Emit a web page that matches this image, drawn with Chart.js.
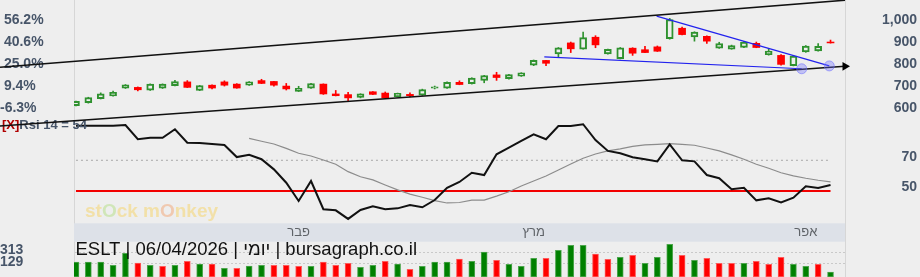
<!DOCTYPE html>
<html>
<head>
<meta charset="utf-8">
<title>ESLT</title>
<script src="https://cdn.jsdelivr.net/npm/chart.js@4.4.1/dist/chart.umd.min.js"></script>
<style>
  html, body { margin: 0; padding: 0; background: #eeeeee; }
  #wrap { position: relative; width: 920px; height: 277px; overflow: hidden; }
  #wrap canvas { position: absolute; left: 0; top: 0; }
</style>
</head>
<body>
<div id="wrap">
  <canvas id="volumeChart" width="917" height="277"></canvas>
  <canvas id="rsiChart" width="917" height="277"></canvas>
  <canvas id="priceChart" width="917" height="277"></canvas>
</div>
<script>
// ---- values (one entry per trading day) ----
var opens  = [611, 624, 642, 655, 690, 694, 681, 690, 702, 719, 680, 704, 719, 709, 704, 725, 721, 700, 676, 690,
              709, 664, 661, 648, 674, 668, 652, 662, 658, 690, 690, 717, 711, 726, 751, 734, 745, 795, 817, 847,
              897, 869, 923, 847, 825, 873, 866, 879, 916, 964, 924, 927, 873, 869, 876, 895, 843, 840, 793, 856,
              860, 901];
var highs  = [632, 649, 669, 677, 707, 696, 710, 710, 726, 725, 703, 706, 724, 711, 721, 731, 722, 712, 699, 712,
              710, 680, 671, 665, 675, 673, 668, 669, 686, 700, 719, 724, 738, 749, 763, 754, 761, 819, 818, 876,
              901, 946, 930, 869, 876, 875, 881, 883, 1009, 969, 948, 929, 900, 887, 903, 901, 872, 844, 839, 885,
              894, 910];
var lows   = [609, 622, 641, 654, 689, 678, 680, 689, 701, 693, 679, 687, 700, 690, 703, 711, 700, 682, 675, 689,
              662, 655, 633, 646, 661, 645, 650, 651, 657, 687, 689, 706, 709, 715, 726, 732, 744, 793, 793, 830,
              853, 868, 875, 846, 824, 840, 852, 858, 914, 933, 905, 895, 872, 868, 875, 875, 841, 795, 792, 854,
              859, 896];
var closes = [630, 648, 664, 671, 706, 683, 709, 709, 721, 694, 702, 691, 704, 691, 719, 712, 704, 687, 690, 711,
              664, 656, 646, 664, 662, 646, 667, 656, 684, 697, 717, 707, 737, 748, 739, 752, 760, 818, 804, 875,
              870, 921, 888, 868, 875, 850, 853, 859, 1003, 935, 946, 905, 894, 885, 901, 876, 860, 799, 837, 883,
              881, 897];

var volumes = [160, 160, 160, 108, 297, 145, 108, 93, 108, 171, 129, 129, 61, 61, 97, 108, 108, 108, 93, 93,
               160, 108, 140, 77, 108, 171, 129, 46, 93, 160, 160, 208, 171, 318, 187, 124, 93, 219, 219, 344,
               423, 423, 286, 203, 234, 266, 140, 234, 439, 266, 187, 219, 140, 140, 140, 171, 124, 234, 124, 93,
               124, 1];
// 1 = green volume bar, 0 = red volume bar
var volumeUp = [1, 1, 1, 1, 1, 0, 1, 0, 1, 0, 1, 0, 1, 0, 1, 1, 0, 0, 0, 1,
                0, 0, 0, 1, 1, 0, 1, 0, 1, 1, 1, 0, 1, 1, 0, 1, 1, 1, 0, 1,
                1, 1, 0, 0, 1, 0, 1, 1, 1, 0, 1, 0, 0, 0, 1, 0, 0, 0, 1, 1,
                0, 1];

var rsiValues = [92.5, 92.5, 92.5, 92.5, 93.0, 83.7, 84.7, 84.7, 90.2, 81.5, 81.3, 80.6, 80.0, 72.1, 73.6, 70.7,
                 64.1, 55.4, 43.5, 56.5, 38.1, 37.4, 31.8, 37.6, 40.0, 38.1, 38.7, 40.9, 39.4, 44.1, 52.1, 55.9,
                 61.9, 60.4, 73.9, 78.2, 82.6, 86.9, 83.7, 92.3, 92.3, 93.5, 83.2, 76.1, 74.6, 72.0, 70.7, 69.3,
                 80.4, 70.0, 69.3, 60.4, 58.3, 51.1, 52.1, 43.9, 45.2, 42.6, 45.6, 53.1, 52.0, 53.9];
var rsiSignal = [null, null, null, null, null, null, null, null, null, null, null, null, null, null,
                 84.3, 82.4, 80.6, 77.8, 74.6, 72.8, 70.2, 67.4, 62.6, 59.3, 57.2, 53.9, 50.7, 48.0, 45.9, 43.7,
                 42.2, 42.5, 44.1, 44.1, 46.7, 49.5, 53.3, 56.5, 59.8, 63.7, 67.6, 71.3, 74.1, 76.1, 77.4, 79.1,
                 80.0, 80.4, 80.8, 80.4, 79.8, 78.0, 76.1, 73.5, 70.7, 67.4, 64.8, 61.9, 59.8, 58.3, 57.0, 55.9];
var rsiLevels = [70, 50];

var monthLabels = ['פבר', 'מרץ', 'אפר'];
var monthStarts = [18, 37, 59];

var priceTicks = [600, 700, 800, 900, 1000];
var rsiTicks = [50, 70];
var volumeTicks = [129, 313];
var pctBase = 640.1; // price the left percent axis is measured from

// drawn trend lines, as [day index, price]
var upperChannel = [[-6.14, 786], [62.17, 1092]];
var lowerChannel = [[-6.14, 518], [62.17, 790]];
var wedgeLower = [[37.86, 833], [58.67, 779]];
var wedgeUpper = [[46.94, 1019], [60.9, 792]];

var chartTitle = 'ESLT | 06/04/2026 | יומי | bursagraph.co.il';
var rsiPeriod = 14;

// ---- layout / style ----
var LEFT_W = 74, RIGHT_W = 72;
var X_MIN = -0.16, X_MAX = 62.17;
var PRICE_MIN = -144.2, PRICE_MAX = 1065.5;
var RSI_MIN = -6.03, RSI_MAX = 174.43;
var VOL_MIN = -75.5, VOL_MAX = 4281.7;
var BAND_TOP = 223.3, BAND_H = 18.4;

var UP_COLOR = '#2f922f';
var DOWN_COLOR = '#ff0000';
var BG = '#eeeeee';
var LABEL_COLOR = '#475569';
var FONT = 'Arial, "Liberation Sans", sans-serif';

function pts(pairs) {
    return pairs.map(function (p) { return { x: p[0], y: p[1] }; });
}

function series(values) {
    var out = [];
    values.forEach(function (v, i) { if (v !== null) out.push({ x: i, y: v }); });
    return out;
}

function xAxis() {
    return { type: 'linear', min: X_MIN, max: X_MAX, offset: false, display: false };
}

// y axis with a fixed width and only the given tick values
function sideAxis(position, width, min, max, tickValues, opts) {
    opts = opts || {};
    return {
        type: 'linear',
        position: position,
        min: min,
        max: max,
        bounds: 'data',
        afterBuildTicks: function (scale) {
            scale.ticks = tickValues.map(function (v) { return { value: v }; });
        },
        afterFit: function (scale) {
            scale.width = width;
            scale.paddingTop = 0;
            scale.paddingBottom = 0;
        },
        grid: opts.grid || { display: false, drawTicks: false },
        border: opts.border || { display: false },
        ticks: {
            display: tickValues.length > 0,
            autoSkip: false,
            crossAlign: 'far',
            padding: 0,
            labelOffset: opts.labelOffset || 0,
            color: LABEL_COLOR,
            font: { family: FONT, size: 14, weight: 'bold' },
            callback: opts.format || function (v) { return v; }
        }
    };
}

function baseOptions(scales) {
    return {
        responsive: false,
        animation: false,
        events: [],
        devicePixelRatio: 1,
        layout: { padding: 0 },
        plugins: { legend: { display: false }, tooltip: { enabled: false } },
        scales: Object.assign({ x: xAxis() }, scales)
    };
}

// ---- volume panel (bottom layer): date band, bars, title ----
var volumeOverlay = {
    id: 'volumeOverlay',
    beforeDatasetsDraw: function (chart) {
        var ctx = chart.ctx, area = chart.chartArea, xs = chart.scales.x;
        ctx.save();
        ctx.fillStyle = '#dde1e8';
        ctx.fillRect(area.left, BAND_TOP, area.right - area.left, BAND_H);
        ctx.fillStyle = '#5f6368';
        ctx.font = '13px ' + FONT;
        ctx.textAlign = 'center';
        ctx.textBaseline = 'middle';
        monthStarts.forEach(function (idx, k) {
            ctx.fillText(monthLabels[k], xs.getPixelForValue(idx), BAND_TOP + BAND_H / 2);
        });
        ctx.restore();
    },
    afterDatasetsDraw: function (chart) {
        var ctx = chart.ctx, area = chart.chartArea;
        ctx.save();
        ctx.fillStyle = '#111111';
        ctx.font = '18.5px ' + FONT;
        ctx.textAlign = 'left';
        ctx.textBaseline = 'alphabetic';
        ctx.fillText(chartTitle, area.left + 1.5, 254.7);
        ctx.restore();
    }
};

function initVolumeChart() {
    var ctx = document.getElementById('volumeChart').getContext('2d');
    new Chart(ctx, {
        type: 'bar',
        data: {
            datasets: [{
                data: series(volumes),
                backgroundColor: volumeUp.map(function (u) { return u ? '#008000' : '#ff0000'; }),
                borderColor: volumeUp.map(function (u) { return u ? '#4da64d' : '#ff5a5a'; }),
                borderWidth: 1,
                borderSkipped: false,
                barThickness: 6,
                base: VOL_MIN,
                yAxisID: 'vol'
            }]
        },
        options: baseOptions({
            vol: sideAxis('left', LEFT_W, VOL_MIN, VOL_MAX, volumeTicks, {
                labelOffset: -2,
                grid: { display: true, drawTicks: false, color: '#c9c9c9', lineWidth: 1 },
                border: { display: true, color: '#d6d6d6', dash: [2, 2] }
            }),
            edge: sideAxis('right', RIGHT_W, 0, 1, [], {
                border: { display: true, color: '#d6d6d6' }
            })
        }),
        plugins: [volumeOverlay]
    });
}

// ---- RSI panel (middle layer) ----
var rsiOverlay = {
    id: 'rsiOverlay',
    beforeDatasetsDraw: function (chart) {
        var ctx = chart.ctx;
        var parts = [['st', '#f2e0a8'], ['O', '#d0e6b8'], ['ck m', '#f2e0a8'], ['O', '#f0c9b0'], ['nkey', '#f2e0a8']];
        var x = 85;
        ctx.save();
        ctx.font = 'bold 19px ' + FONT;
        ctx.textBaseline = 'alphabetic';
        parts.forEach(function (p) {
            ctx.fillStyle = p[1];
            ctx.fillText(p[0], x, 216.5);
            x += ctx.measureText(p[0]).width;
        });
        ctx.restore();
    },
    afterDraw: function (chart) {
        var ctx = chart.ctx;
        var label = 'Rsi ' + rsiPeriod + ' = ' + Math.round(rsiValues[rsiValues.length - 1]);
        ctx.save();
        ctx.font = 'bold 13px ' + FONT;
        ctx.textBaseline = 'middle';
        ctx.fillStyle = '#b00000';
        ctx.fillText('[X]', 2, 125.5);
        var w = ctx.measureText('[X]').width;
        ctx.fillStyle = LABEL_COLOR;
        ctx.fillText(label, 2 + w, 125.5);
        ctx.restore();
    }
};

function levelLine(level) {
    return [{ x: 0, y: level }, { x: rsiValues.length - 1, y: level }];
}

function initRsiChart() {
    var ctx = document.getElementById('rsiChart').getContext('2d');
    new Chart(ctx, {
        type: 'line',
        data: {
            datasets: [{
                data: series(rsiValues),
                borderColor: '#111111',
                borderWidth: 2,
                pointRadius: 0,
                order: 0,
                yAxisID: 'rsi'
            }, {
                data: series(rsiSignal),
                borderColor: '#8c8c8c',
                borderWidth: 1.2,
                pointRadius: 0,
                order: 1,
                yAxisID: 'rsi'
            }, {
                data: levelLine(rsiLevels[1]),
                borderColor: '#f20000',
                borderWidth: 2,
                pointRadius: 0,
                order: 2,
                yAxisID: 'rsi'
            }, {
                data: levelLine(rsiLevels[0]),
                borderColor: '#a8a8a8',
                borderWidth: 1,
                borderDash: [2, 3],
                pointRadius: 0,
                order: 3,
                yAxisID: 'rsi'
            }]
        },
        options: baseOptions({
            pad: sideAxis('left', LEFT_W, 0, 1, []),
            rsi: sideAxis('right', RIGHT_W, RSI_MIN, RSI_MAX, rsiTicks, { labelOffset: -3.5 })
        }),
        plugins: [rsiOverlay]
    });
}

// ---- price panel (top layer): candles and trend lines ----
function pctLabel(v) {
    var p = (v / pctBase - 1) * 100;
    return (p < 0 ? '' : ' ') + p.toFixed(1) + '%';
}

function initPriceChart() {
    var ctx = document.getElementById('priceChart').getContext('2d');
    var isUp = closes.map(function (c, i) { return c >= opens[i]; });

    new Chart(ctx, {
        type: 'bar',
        data: {
            datasets: [{
                // circles at the wedge ends
                type: 'line',
                data: [pts(wedgeLower)[1], pts(wedgeUpper)[1]],
                showLine: false,
                pointRadius: 5,
                pointBackgroundColor: 'rgba(110, 110, 255, 0.35)',
                pointBorderColor: 'rgba(110, 110, 255, 0.55)',
                pointBorderWidth: 1,
                clip: false,
                order: 0,
                yAxisID: 'price'
            }, {
                type: 'line',
                data: pts(lowerChannel),
                borderColor: '#111111',
                borderWidth: 1.5,
                pointRadius: [0, 5],
                pointStyle: 'triangle',
                pointRotation: 90,
                pointBackgroundColor: '#000000',
                pointBorderWidth: 0,
                clip: false,
                order: 1,
                yAxisID: 'price'
            }, {
                type: 'line',
                data: pts(upperChannel),
                borderColor: '#111111',
                borderWidth: 1.5,
                pointRadius: 0,
                clip: false,
                order: 1,
                yAxisID: 'price'
            }, {
                type: 'line',
                data: pts(wedgeLower),
                borderColor: '#2222ee',
                borderWidth: 1.2,
                pointRadius: 0,
                clip: false,
                order: 2,
                yAxisID: 'price'
            }, {
                type: 'line',
                data: pts(wedgeUpper),
                borderColor: '#2222ee',
                borderWidth: 1.2,
                pointRadius: 0,
                clip: false,
                order: 2,
                yAxisID: 'price'
            }, {
                // candle bodies
                data: opens.map(function (o, i) { return { x: i, y: [o, closes[i]] }; }),
                backgroundColor: isUp.map(function (u) { return u ? BG : DOWN_COLOR; }),
                borderColor: isUp.map(function (u) { return u ? UP_COLOR : DOWN_COLOR; }),
                borderWidth: isUp.map(function (u) { return u ? 2 : 0; }),
                borderSkipped: false,
                barThickness: 7,
                grouped: false,
                order: 3,
                yAxisID: 'price'
            }, {
                // wicks
                data: lows.map(function (l, i) { return { x: i, y: [l, highs[i]] }; }),
                backgroundColor: isUp.map(function (u) { return u ? UP_COLOR : DOWN_COLOR; }),
                borderWidth: 0,
                barThickness: 1,
                grouped: false,
                order: 4,
                yAxisID: 'price'
            }]
        },
        options: baseOptions({
            pct: sideAxis('left', LEFT_W, PRICE_MIN, PRICE_MAX, priceTicks, { format: pctLabel }),
            price: sideAxis('right', RIGHT_W, PRICE_MIN, PRICE_MAX, priceTicks, {
                format: function (v) { return v.toLocaleString('en-US'); }
            })
        })
    });
}

initVolumeChart();
initRsiChart();
initPriceChart();
</script>
</body>
</html>
